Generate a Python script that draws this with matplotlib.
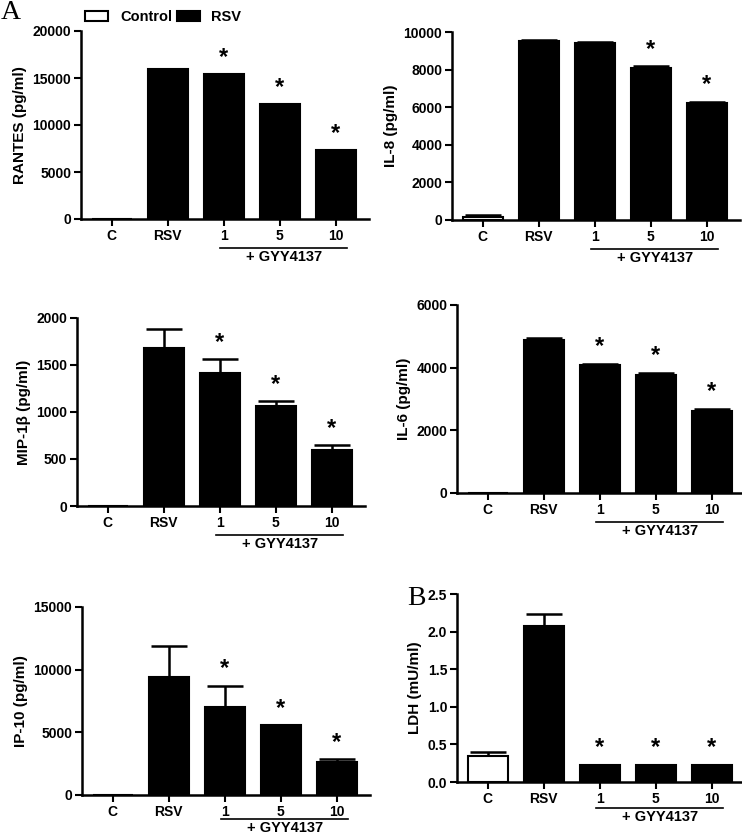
import numpy as np
import matplotlib.pyplot as plt
from matplotlib.patches import Patch

plt.rcParams['font.family'] = ['Liberation Sans', 'DejaVu Sans']
plt.rcParams['font.weight'] = 'bold'

groups = ['C', 'RSV', '1', '5', '10']

rantes = [0, 16000, 15400, 12200, 7300]
rantes_err = [0, 0, 0, 0, 0]
il8 = [150, 9500, 9400, 8100, 6200]
il8_err = [100, 100, 80, 80, 100]
mip = [0, 1680, 1420, 1060, 600]
mip_err = [0, 200, 140, 55, 45]
il6 = [0, 4880, 4100, 3780, 2620]
il6_err = [0, 60, 30, 60, 60]
ip10 = [0, 9450, 7000, 5550, 2650]
ip10_err = [0, 2450, 1700, 0, 200]
ldh = [0.34, 2.08, 0.22, 0.22, 0.22]
ldh_err = [0.06, 0.15, 0.005, 0.01, 0.01]

# which groups carry an asterisk
rantes_star = [2, 3, 4]
il8_star = [3, 4]
mip_star = [2, 3, 4]
il6_star = [2, 3, 4]
ip10_star = [2, 3, 4]
ldh_star = [2, 3, 4]

panels = [
    # values, errors, stars, ylabel, ymax, yticks, left px, top px, bracket gap px
    (rantes, rantes_err, rantes_star, 'RANTES (pg/ml)', 20000, [0, 5000, 10000, 15000, 20000], 81, 31, 29),
    (il8, il8_err, il8_star, 'IL-8 (pg/ml)', 10000, [0, 2000, 4000, 6000, 8000, 10000], 452, 32, 29),
    (mip, mip_err, mip_star, 'MIP-1β (pg/ml)', 2000, [0, 500, 1000, 1500, 2000], 77, 318, 29),
    (il6, il6_err, il6_star, 'IL-6 (pg/ml)', 6000, [0, 2000, 4000, 6000], 457, 305, 29),
    (ip10, ip10_err, ip10_star, 'IP-10 (pg/ml)', 15000, [0, 5000, 10000, 15000], 82, 607, 24),
    (ldh, ldh_err, ldh_star, 'LDH (mU/ml)', 2.5, [0.0, 0.5, 1.0, 1.5, 2.0, 2.5], 457, 594, 26),
]

W, H = 742, 836
fig = plt.figure(figsize=(W / 100, H / 100), dpi=100)

x = np.arange(len(groups))
xlo, xhi = -0.55, 4.6
spacing = 56
ax_w = (xhi - xlo) * spacing
ax_h = 188

for vals, errs, stars, ylab, ymax, yt, left, top, gap in panels:
    ax = fig.add_axes([left / W, 1 - (top + ax_h) / H, ax_w / W, ax_h / H])
    colors = ['white'] + ['black'] * 4
    ax.bar(x, vals, width=0.72, color=colors, edgecolor='black', linewidth=1.5, zorder=2)
    ax.errorbar(x, vals, yerr=[np.zeros(len(vals)), errs], fmt='none', ecolor='black',
                elinewidth=1.8, capsize=13, capthick=1.8, zorder=1)
    ax.set_xlim(xlo, xhi)
    ax.set_ylim(0, ymax)
    ax.set_yticks(yt)
    if ymax < 10:
        ax.set_yticklabels(['%.1f' % t for t in yt])
    ax.set_xticks(x)
    ax.set_xticklabels(groups)
    ax.tick_params(width=1.5, length=5, labelsize=10, pad=2)
    for lbl in ax.get_xticklabels() + ax.get_yticklabels():
        lbl.set_fontweight('bold')
    ax.spines['top'].set_visible(False)
    ax.spines['right'].set_visible(False)
    ax.spines['left'].set_linewidth(1.8)
    ax.spines['bottom'].set_linewidth(1.8)
    ax.set_ylabel(ylab, fontsize=11, fontweight='bold', labelpad=4)
    for i in stars:
        ax.text(x[i], vals[i] + errs[i] + ymax * 0.03, '*', ha='center', va='bottom',
                fontsize=17, fontweight='bold')
    tr = ax.get_xaxis_transform()
    ax.plot([1.93, 4.2], [-gap / ax_h, -gap / ax_h], color='black', lw=1.2,
            transform=tr, clip_on=False)
    ax.text(3.07, -(gap + 2) / ax_h, '+ GYY4137', transform=tr, ha='center', va='top',
            fontsize=10.5, fontweight='bold')

fig.text(1 / W, 1 - 0 / H, 'A', family='Liberation Serif', fontsize=20,
         fontweight='normal', va='top', ha='left')
fig.text(407 / W, 1 - 586 / H, 'B', family='Liberation Serif', fontsize=20,
         fontweight='normal', va='top', ha='left')

handles = [Patch(facecolor='white', edgecolor='black', linewidth=1.5),
           Patch(facecolor='black', edgecolor='black', linewidth=1.5)]
fig.legend(handles, ['Control', 'RSV'], loc='upper left', ncol=2, frameon=False,
           bbox_to_anchor=(72 / W, 1 + 3 / H), prop={'size': 10.5, 'weight': 'bold'},
           handlelength=1.6, handleheight=0.7, handletextpad=0.8, columnspacing=0.3)

fig.savefig('out.png', dpi=100)
